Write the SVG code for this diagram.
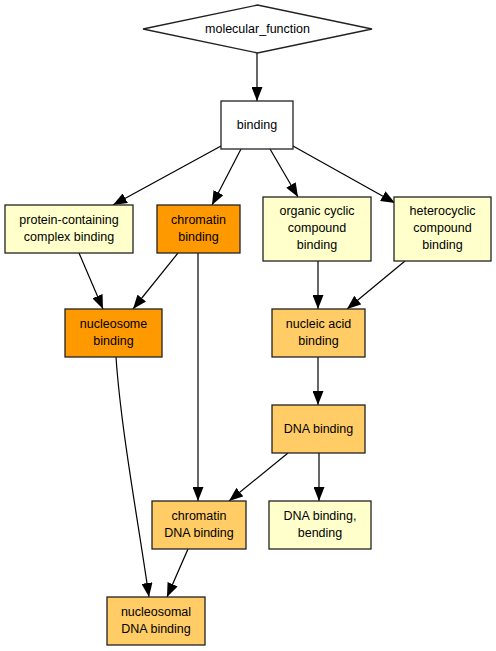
<svg xmlns="http://www.w3.org/2000/svg" width="496" height="651" viewBox="0 0 496 651">
<defs>
<marker id="arr" markerWidth="14" markerHeight="11" viewBox="0 0 14 11" refX="14" refY="5.5" orient="auto" markerUnits="userSpaceOnUse">
<path d="M0,0 L14,5.5 L0,11 z" fill="#000"/>
</marker>
<style>
.n{stroke:#222;stroke-width:1.3}
.w{fill:#fff}
.y{fill:#ffffcc}
.o{fill:#ff9900}
.l{fill:#ffcc66}
text{font-family:"Liberation Sans",Arial,sans-serif;font-size:12.5px;fill:#000;text-anchor:middle}
.e{fill:none;stroke:#000;stroke-width:1.2;marker-end:url(#arr)}
</style>
</defs>
<rect width="496" height="651" fill="#fff"/>
<g id="connectors">
<path class="e" d="M257,53 L257,101"/>
<path class="e" d="M221,146 L113,205"/>
<path class="e" d="M241,149 L212,205"/>
<path class="e" d="M270,149 L298,197"/>
<path class="e" d="M293,146 L395,203"/>
<path class="e" d="M79,253 L103,309"/>
<path class="e" d="M178,253 L133,309"/>
<path class="e" d="M198,253 L198,501"/>
<path class="e" d="M318,261 L318,309"/>
<path class="e" d="M405,261 L347,309"/>
<path class="e" d="M318,357 L318,405"/>
<path class="e" d="M288,453 L229,501"/>
<path class="e" d="M319,453 L319,501"/>
<path class="e" d="M188,549 L167,597"/>
<path class="e" d="M116,357 C121,430 138,520 149,597"/>
</g>
<g id="molecular_function">
<polygon class="n w" points="143,29 257.5,5 372,29 257.5,53"/>
<text x="257.5" y="33">molecular_function</text>
</g>
<g id="binding">
<rect class="n w" x="221" y="101" width="72" height="48"/>
<text x="257" y="129">binding</text>
</g>
<g id="protein_containing_complex_binding">
<rect class="n y" x="5" y="205" width="128" height="48"/>
<text x="69" y="224">protein-containing</text>
<text x="69" y="241">complex binding</text>
</g>
<g id="chromatin_binding">
<rect class="n o" x="157" y="205" width="83" height="48"/>
<text x="198.5" y="224">chromatin</text>
<text x="198.5" y="241">binding</text>
</g>
<g id="organic_cyclic_compound_binding">
<rect class="n y" x="263" y="197" width="108" height="64"/>
<text x="317" y="215">organic cyclic</text>
<text x="317" y="232">compound</text>
<text x="317" y="249">binding</text>
</g>
<g id="heterocyclic_compound_binding">
<rect class="n y" x="394" y="197" width="97" height="64"/>
<text x="442.5" y="215">heterocyclic</text>
<text x="442.5" y="232">compound</text>
<text x="442.5" y="249">binding</text>
</g>
<g id="nucleosome_binding">
<rect class="n o" x="65" y="309" width="97" height="48"/>
<text x="113.5" y="328">nucleosome</text>
<text x="113.5" y="345">binding</text>
</g>
<g id="nucleic_acid_binding">
<rect class="n l" x="272" y="309" width="93" height="48"/>
<text x="318.5" y="328">nucleic acid</text>
<text x="318.5" y="345">binding</text>
</g>
<g id="DNA_binding">
<rect class="n l" x="272" y="405" width="93" height="48"/>
<text x="318.5" y="433">DNA binding</text>
</g>
<g id="chromatin_DNA_binding">
<rect class="n l" x="152" y="501" width="94" height="48"/>
<text x="199" y="520">chromatin</text>
<text x="199" y="537">DNA binding</text>
</g>
<g id="DNA_binding_bending">
<rect class="n y" x="269" y="501" width="102" height="48"/>
<text x="320" y="520">DNA binding,</text>
<text x="320" y="537">bending</text>
</g>
<g id="nucleosomal_DNA_binding">
<rect class="n l" x="107" y="597" width="98" height="48"/>
<text x="156" y="616">nucleosomal</text>
<text x="156" y="633">DNA binding</text>
</g>
</svg>
